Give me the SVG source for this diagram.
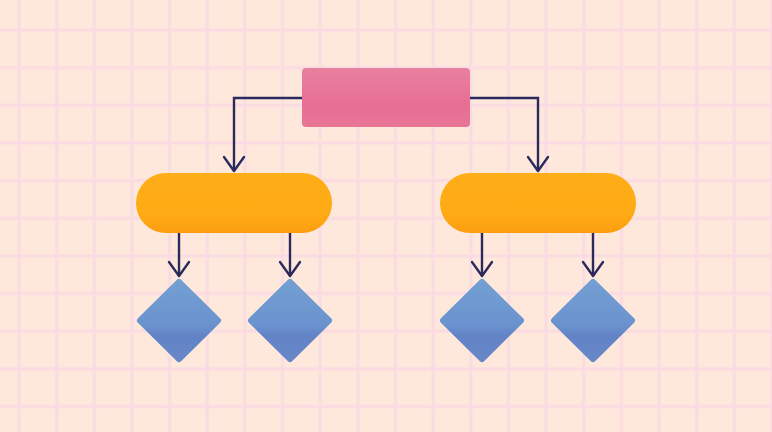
<svg xmlns="http://www.w3.org/2000/svg" width="772" height="432" viewBox="0 0 772 432">
  <defs>
    <pattern id="grid" x="19" y="30" width="37.65" height="37.65" patternUnits="userSpaceOnUse">
      <rect x="-1.5" y="0" width="3" height="37.65" fill="#fadbe2"/>
      <rect x="0" y="-1.5" width="37.65" height="3" fill="#fadbe2"/>
      <rect x="36.15" y="0" width="3" height="37.65" fill="#fadbe2"/>
      <rect x="0" y="36.15" width="37.65" height="3" fill="#fadbe2"/>
    </pattern>
    <linearGradient id="pinkG" x1="0" y1="0" x2="0" y2="1">
      <stop offset="0" stop-color="#e9809f"/>
      <stop offset="0.6" stop-color="#e76f94"/>
      <stop offset="1" stop-color="#e87596"/>
    </linearGradient>
    <linearGradient id="orangeG" x1="0" y1="0" x2="0" y2="1">
      <stop offset="0" stop-color="#ffae17"/>
      <stop offset="0.7" stop-color="#feaa14"/>
      <stop offset="1" stop-color="#fc9d10"/>
    </linearGradient>
    <linearGradient id="blueG" x1="0" y1="0" x2="0" y2="1">
      <stop offset="0" stop-color="#739fd2"/>
      <stop offset="0.55" stop-color="#6b93cf"/>
      <stop offset="0.7" stop-color="#6283c5"/>
      <stop offset="1" stop-color="#6787c8"/>
    </linearGradient>
    <marker id="arrow" viewBox="-17 -12 19 24" markerWidth="19" markerHeight="24" refX="0" refY="0" markerUnits="userSpaceOnUse" orient="auto">
      <path d="M-14,-10 L0,0 L-14,10" fill="none" stroke="#2c2a5c" stroke-width="2.4" stroke-linecap="round" stroke-linejoin="round"/>
    </marker>
    <style>
      .conn { fill: none; stroke: #2c2a5c; stroke-width: 2.4; stroke-linejoin: miter; }
      .pill { fill: url(#orangeG); }
      .dia { fill: url(#blueG); stroke: url(#blueG); stroke-width: 6; stroke-linejoin: round; }
    </style>
  </defs>
  <rect x="0" y="0" width="772" height="432" fill="#fee8dc"/>
  <rect x="0" y="0" width="772" height="432" fill="url(#grid)"/>

  <g id="connectors">
    <path class="conn" d="M302,98 H234 V171" marker-end="url(#arrow)"/>
    <path class="conn" d="M470,98 H538 V171" marker-end="url(#arrow)"/>
    <path class="conn" d="M179,233 V276" marker-end="url(#arrow)"/>
    <path class="conn" d="M290,233 V276" marker-end="url(#arrow)"/>
    <path class="conn" d="M482,233 V276" marker-end="url(#arrow)"/>
    <path class="conn" d="M593,233 V276" marker-end="url(#arrow)"/>
  </g>

  <g id="root">
    <rect x="302" y="68" width="168" height="59" rx="4" fill="url(#pinkG)"/>
  </g>
  <g id="left-pill">
    <rect class="pill" x="136" y="173" width="196" height="60" rx="30"/>
  </g>
  <g id="right-pill">
    <rect class="pill" x="440" y="173" width="196" height="60" rx="30"/>
  </g>
  <g id="diamond-1">
    <polygon class="dia" points="179,282 218,320.5 179,359 140,320.5"/>
  </g>
  <g id="diamond-2">
    <polygon class="dia" points="290,282 329,320.5 290,359 251,320.5"/>
  </g>
  <g id="diamond-3">
    <polygon class="dia" points="482,282 521,320.5 482,359 443,320.5"/>
  </g>
  <g id="diamond-4">
    <polygon class="dia" points="593,282 632,320.5 593,359 554,320.5"/>
  </g>
</svg>
